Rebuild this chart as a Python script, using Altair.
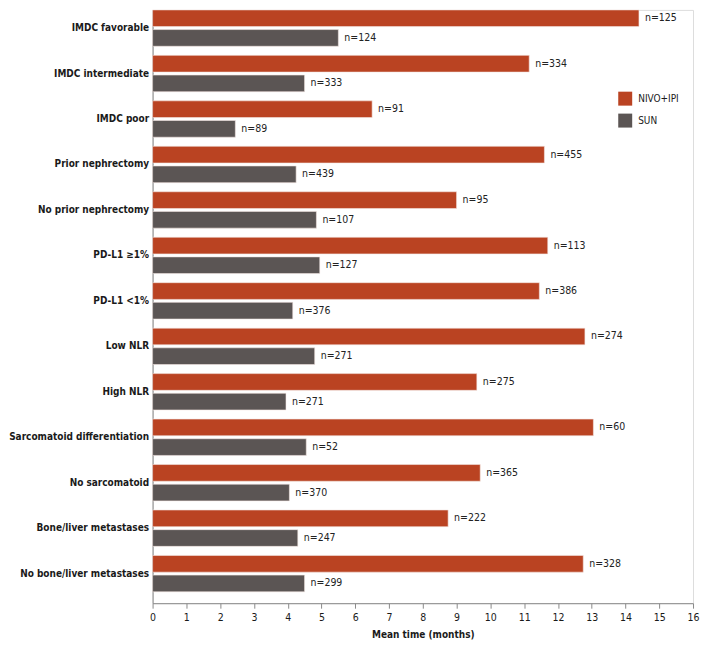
import altair as alt
import pandas as pd

categories = [
    "IMDC favorable", "IMDC intermediate", "IMDC poor", "Prior nephrectomy",
    "No prior nephrectomy", "PD-L1 \u22651%", "PD-L1 <1%", "Low NLR", "High NLR",
    "Sarcomatoid differentiation", "No sarcomatoid", "Bone/liver metastases",
    "No bone/liver metastases",
]
nivo_values = [14.4, 11.15, 6.5, 11.6, 9.0, 11.7, 11.45, 12.8, 9.6, 13.05, 9.7, 8.75, 12.75]
sun_values = [5.5, 4.5, 2.45, 4.25, 4.85, 4.95, 4.15, 4.8, 3.95, 4.55, 4.05, 4.3, 4.5]
nivo_n = [125, 334, 91, 455, 95, 113, 386, 274, 275, 60, 365, 222, 328]
sun_n = [124, 333, 89, 439, 107, 127, 376, 271, 271, 52, 370, 247, 299]
groups = ["NIVO+IPI", "SUN"]
colors = ["#BA4322", "#5B5554"]
x_max = 16

rows = []
for i, c in enumerate(categories):
    rows.append({"category": c, "group": groups[0], "value": nivo_values[i], "label": f"n={nivo_n[i]}"})
    rows.append({"category": c, "group": groups[1], "value": sun_values[i], "label": f"n={sun_n[i]}"})
df = pd.DataFrame(rows)

FONT = "DejaVu Sans Condensed, Lato, sans-serif"
FS = 10

y_scale = alt.Scale(paddingInner=0.2, paddingOuter=0.125, align=0)
y_enc = alt.Y(
    "category:N", sort=categories, title=None, scale=y_scale,
    axis=alt.Axis(labelFont=FONT, labelFontSize=FS, labelFontWeight="bold", labelColor="#1a1a1a",
                  ticks=False, labelPadding=4, domainColor="#8a8a8a", labelLimit=300),
)
yoff = alt.YOffset("group:N", sort=groups, scale=alt.Scale(paddingInner=0.15, paddingOuter=0))
x_enc = alt.X(
    "value:Q", title="Mean time (months)",
    scale=alt.Scale(domain=[0, x_max], nice=False),
    axis=alt.Axis(tickCount=x_max, grid=False, labelOverlap=False, labelFlush=False, format="d",
                  labelFont=FONT, labelFontSize=FS + 0.5, labelColor="#1a1a1a",
                  titleFont=FONT, titleFontSize=FS, titleFontWeight="bold", titleColor="#1a1a1a",
                  domainColor="#8a8a8a", tickColor="#8a8a8a", tickSize=5, labelPadding=4, titlePadding=7),
)

bars = alt.Chart(df).mark_bar(stroke="#f3e6e2", strokeWidth=0.6).encode(
    y=y_enc, yOffset=yoff, x=x_enc,
    color=alt.Color("group:N", sort=groups, scale=alt.Scale(domain=groups, range=colors),
                    legend=alt.Legend(title=None, orient="none", legendX=467, legendY=82,
                                      symbolType="square", symbolSize=196, symbolStrokeWidth=0,
                                      labelFont=FONT, labelFontSize=FS, labelColor="#1a1a1a",
                                      rowPadding=8, labelOffset=6, padding=0)),
)
text = alt.Chart(df).mark_text(align="left", dx=6, font=FONT, fontSize=FS + 0.5, color="#222222").encode(
    y=y_enc, yOffset=yoff, x=x_enc, text="label:N",
)

chart = alt.layer(bars, text).properties(width=542, height=595).configure_view(stroke=None).configure(padding={"left": 0, "top": 0, "right": 0, "bottom": 0})
chart.save("out.html", embed_options={"renderer": "svg", "actions": False})
